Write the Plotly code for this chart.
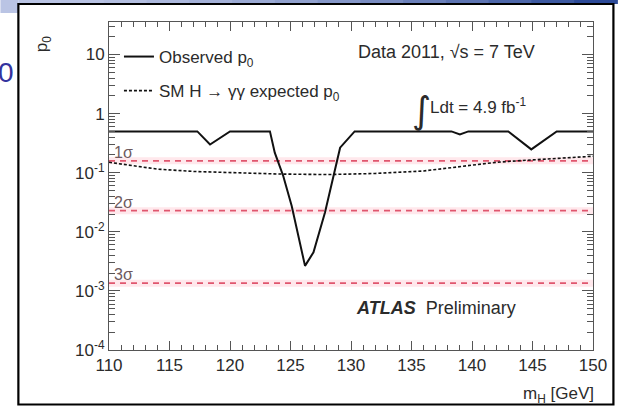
import math
import plotly.graph_objects as go

# ---------------- data ----------------
mass_obs = [110, 117.3, 118.35, 120.0, 123.3, 123.7, 124.4, 125.1, 126.2, 126.9,
            127.85, 128.7, 129.1, 130.3, 138.3, 139.0, 139.7, 143.0, 144.9, 147.0, 150]
p0_obs = [0.5, 0.5, 0.30, 0.5, 0.5, 0.218, 0.088, 0.0274, 0.00265, 0.0045,
          0.0212, 0.114, 0.265, 0.5, 0.5, 0.445, 0.5, 0.5, 0.248, 0.5, 0.5]

mass_exp = [110, 112, 114, 117, 120, 124, 128, 132, 136, 139, 142, 144, 146, 148, 150]
p0_exp = [0.15, 0.13, 0.115, 0.105, 0.10, 0.095, 0.093, 0.097, 0.107, 0.125,
          0.15, 0.16, 0.17, 0.18, 0.19]

sigma_names = ["1σ", "2σ", "3σ"]
sigma_p0 = [0.1587, 0.02275, 0.00135]

x_range = [110, 150]
y_tickvals = [10, 1, 0.1, 0.01, 0.001, 0.0001]
y_ticktext = ["10", "1", "10<sup>-1</sup>", "10<sup>-2</sup>", "10<sup>-3</sup>", "10<sup>-4</sup>"]

# ---------------- layout geometry ----------------
W, H = 619, 408
L, R, T, B = 109, 595, 22, 350
PW, PH = R - L, B - T


def xp(px):
    return (px - L) / PW


def yp(py):
    return (B - py) / PH


FONT = "Liberation Sans, Arial, sans-serif"
TXT = "#2b2b2b"

fig = go.Figure()

# sigma reference lines (halo + dashed)
for s in sigma_p0:
    fig.add_trace(go.Scatter(x=x_range, y=[s, s], mode="lines",
                             line=dict(color="rgba(255,150,170,0.22)", width=7),
                             showlegend=False, hoverinfo="skip"))
    fig.add_trace(go.Scatter(x=x_range, y=[s, s], mode="lines",
                             line=dict(color="#e0566e", width=1.8, dash="6px,5px"),
                             showlegend=False, hoverinfo="skip"))

fig.add_trace(go.Scatter(x=mass_obs, y=p0_obs, mode="lines",
                         line=dict(color="#111111", width=2),
                         name="Observed p<sub>0</sub>", legendgroup="a"))
fig.add_trace(go.Scatter(x=mass_exp, y=p0_exp, mode="lines",
                         line=dict(color="#111111", width=1.6, dash="3px,2px"),
                         name="SM H → γγ expected p<sub>0</sub>", legendgroup="b"))

minor_vals = [m * 10 ** e for e in range(-4, 2) for m in range(2, 10)]

annotations = []
for name, s in zip(sigma_names, sigma_p0):
    annotations.append(dict(x=110, y=math.log10(s), xref="x", yref="y",
                            text=name, showarrow=False, xanchor="left", yanchor="bottom",
                            xshift=3, yshift=-2,
                            font=dict(family=FONT, size=16, color="#6e5a5e")))

annotations += [
    dict(x=xp(357), y=yp(52), xref="paper", yref="paper", text="Data 2011, √s = 7 TeV",
         showarrow=False, xanchor="left", yanchor="middle",
         font=dict(family=FONT, size=18, color=TXT)),
    dict(x=xp(411), y=yp(110), xref="paper", yref="paper", text="∫",
         showarrow=False, xanchor="left", yanchor="middle",
         font=dict(family="DejaVu Sans", size=37, color=TXT)),
    dict(x=xp(429), y=yp(106), xref="paper", yref="paper", text="Ldt = 4.9 fb<sup>-1</sup>",
         showarrow=False, xanchor="left", yanchor="middle",
         font=dict(family=FONT, size=17, color=TXT)),
    dict(x=xp(355), y=yp(308), xref="paper", yref="paper",
         text="<b><i>ATLAS</i></b>  Preliminary",
         showarrow=False, xanchor="left", yanchor="middle",
         font=dict(family=FONT, size=18, color=TXT)),
    dict(x=xp(598), y=yp(395), xref="paper", yref="paper", text="m<sub>H</sub> [GeV]",
         showarrow=False, xanchor="right", yanchor="middle",
         font=dict(family=FONT, size=17, color=TXT)),
    dict(x=xp(30), y=yp(22), xref="paper", yref="paper", text="p<sub>0</sub>",
         showarrow=False, xanchor="left", yanchor="top", textangle=-90, yshift=-12,
         font=dict(family=FONT, size=17, color=TXT)),
    dict(x=xp(15), y=yp(72), xref="paper", yref="paper", text="0",
         showarrow=False, xanchor="right", yanchor="middle", borderpad=0,
         font=dict(family=FONT, size=28, color="#33339e")),
]

shapes = []
# blue slide header band (stepped gradient)
c0 = (186, 196, 228)
c1 = (44, 74, 152)
steps = 14
for i in range(steps):
    a = i / (steps - 1)
    col = "rgb(%d,%d,%d)" % tuple(round(c0[k] + (c1[k] - c0[k]) * a ** 1.6) for k in range(3))
    x0p = 18 + (W - 18) * i / steps
    x1p = 18 + (W - 18) * (i + 1) / steps
    shapes.append(dict(type="rect", xref="paper", yref="paper",
                       x0=xp(x0p), x1=xp(x1p + 1), y0=yp(4), y1=yp(0),
                       fillcolor=col, line=dict(width=0), layer="below"))
shapes.append(dict(type="rect", xref="paper", yref="paper",
                   x0=xp(0), x1=xp(18), y0=yp(13), y1=yp(0),
                   fillcolor="rgb(186,196,228)", line=dict(width=0), layer="below"))
# black frame of the picture
shapes.append(dict(type="rect", xref="paper", yref="paper",
                   x0=xp(18), x1=xp(615.5), y0=yp(404.5), y1=yp(4),
                   line=dict(color="#000000", width=2.2), fillcolor="rgba(0,0,0,0)"))

fig.update_layout(
    width=W, height=H,
    margin=dict(l=L, r=W - R, t=T, b=H - B, pad=0),
    paper_bgcolor="white", plot_bgcolor="white",
    font=dict(family=FONT, color=TXT),
    showlegend=True,
    legend=dict(x=xp(119), y=yp(39), xanchor="left", yanchor="top",
                bgcolor="rgba(0,0,0,0)", font=dict(family=FONT, size=17, color=TXT),
                tracegroupgap=9, itemwidth=30),
    annotations=annotations,
    shapes=shapes,
)

fig.update_xaxes(range=x_range, tick0=110, dtick=5, ticks="inside", ticklen=9,
                 tickcolor="#555", showline=True, linecolor="#555", linewidth=1,
                 mirror="allticks", showgrid=False, zeroline=False,
                 tickfont=dict(family=FONT, size=17, color=TXT),
                 minor=dict(dtick=1, ticks="inside", ticklen=5, tickcolor="#555", showgrid=False))
fig.update_yaxes(type="log", range=[-4, 1.55], tickmode="array",
                 tickvals=y_tickvals, ticktext=y_ticktext,
                 ticks="inside", ticklen=11, tickcolor="#555",
                 showline=True, linecolor="#555", linewidth=1,
                 mirror="allticks", showgrid=False, zeroline=False,
                 tickfont=dict(family=FONT, size=17, color=TXT),
                 minor=dict(tickmode="array", tickvals=minor_vals, ticks="inside",
                            ticklen=6, tickcolor="#555", showgrid=False))

fig.write_html("out.html")
